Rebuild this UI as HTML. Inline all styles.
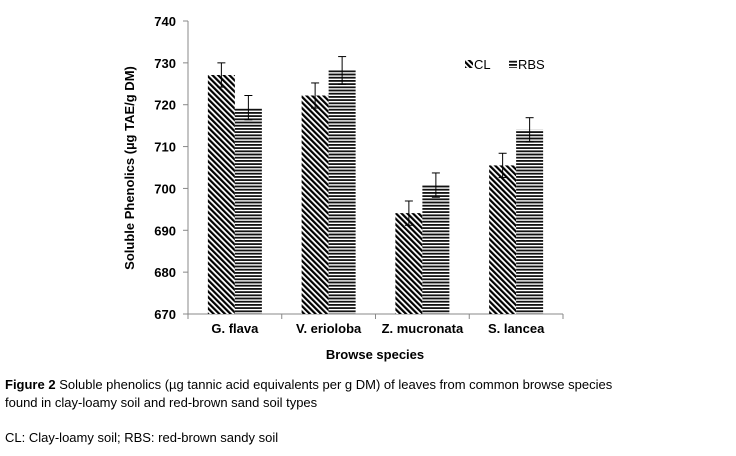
<!DOCTYPE html>
<html><head><meta charset="utf-8"><style>
body{margin:0;background:#fff;width:736px;height:456px;overflow:hidden;font-family:"Liberation Sans",Arial,sans-serif;}
.cap{position:absolute;left:5px;font-size:13px;color:#000;line-height:18px;}
</style></head><body>
<svg id="chart" width="736" height="456" style="position:absolute;left:0;top:0">
<defs>
<pattern id="diag" patternUnits="userSpaceOnUse" width="4" height="4" patternTransform="rotate(-45)">
<rect width="4" height="4" fill="#fff"/><rect width="2.2" height="4" fill="#000"/></pattern>
<pattern id="horiz" patternUnits="userSpaceOnUse" width="4" height="3.2">
<rect width="4" height="3.2" fill="#fff"/><rect width="4" height="1.8" fill="#111"/></pattern>
</defs>
<g id="axes"></g><g id="bars"></g>
</svg>
<div class="cap" style="top:376px;width:625px"><b>Figure 2</b> Soluble phenolics (µg tannic acid equivalents per g DM) of leaves from common browse species found in clay-loamy soil and red-brown sand soil types</div>
<div class="cap" style="top:429px">CL: Clay-loamy soil; RBS: red-brown sandy soil</div>
<script>
const categories=["G. flava","V. erioloba","Z. mucronata","S. lancea"];
const clValues=[727.1,722.2,694.1,705.5];
const rbsValues=[719.3,728.2,700.8,714.0];
const clErr=[2.9,3.0,2.9,2.9];
const rbsErr=[2.9,3.3,2.9,2.9];
const yTicks=[670,680,690,700,710,720,730,740];
const NS="http://www.w3.org/2000/svg";
const x0=188,x1=563,yTop=21,yBot=314,yMin=670,yMax=740;
const y=v=>yBot-(v-yMin)/(yMax-yMin)*(yBot-yTop);
const bw=(x1-x0)/categories.length;
const axes=document.getElementById('axes'),bars=document.getElementById('bars');
function mk(t,a,p){const e=document.createElementNS(NS,t);for(const k in a)e.setAttribute(k,a[k]);p.appendChild(e);return e;}
let l=mk('line',{x1:x0,y1:yTop,x2:x0,y2:yBot,stroke:'#888'},axes);


l=mk('line',{x1:x0,y1:yBot,x2:x1,y2:yBot,stroke:'#888'},axes);


yTicks.forEach(v=>{
 mk('line',{x1:x0-5,y1:y(v),x2:x0,y2:y(v),stroke:'#888'},axes);
 const t=mk('text',{x:x0-12,y:y(v)+5,'text-anchor':'end','font-size':'13','font-weight':'bold'},axes);
 t.textContent=v;
 
 
});
for(let i=0;i<=categories.length;i++)mk('line',{x1:x0+i*bw,y1:yBot,x2:x0+i*bw,y2:yBot+5,stroke:'#888'},axes);
categories.forEach((c,i)=>{
 const cx=x0+bw*(i+0.5);
 const t=mk('text',{x:cx,y:333,'text-anchor':'middle','font-size':'13','font-weight':'bold'},axes);
 t.textContent=c;
 
 
 [[clValues,clErr,'url(#diag)',-27,'bar-cl'],[rbsValues,rbsErr,'url(#horiz)',0,'bar-rbs']].forEach(s=>{
  const v=s[0][i],e=s[1][i],bx=cx+s[3];
  const r=mk('rect',{x:bx,y:y(v),width:27,height:yBot-y(v),fill:s[2]},bars);
  
  
  const ex=bx+13.5;
  mk('line',{x1:ex,y1:y(v+e),x2:ex,y2:y(v-e),stroke:'#000'},bars);
  mk('line',{x1:ex-4,y1:y(v+e),x2:ex+4,y2:y(v+e),stroke:'#000'},bars);
  mk('line',{x1:ex-4,y1:y(v-e),x2:ex+4,y2:y(v-e),stroke:'#000'},bars);
 });
});
let t=mk('text',{x:375,y:359,'text-anchor':'middle','font-size':'13','font-weight':'bold'},axes);
t.textContent='Browse species';


t=mk('text',{x:0,y:0,'text-anchor':'middle','font-size':'13','font-weight':'bold',transform:'translate(134,168) rotate(-90)'},axes);
t.textContent='Soluble Phenolics (µg TAE/g DM)';


let r=mk('rect',{x:465,y:60,width:8,height:8,fill:'url(#diag)'},axes);


t=mk('text',{x:474,y:69,'font-size':'13'},axes);t.textContent='CL';


r=mk('rect',{x:509,y:60,width:8,height:8,fill:'url(#horiz)'},axes);


t=mk('text',{x:518,y:69,'font-size':'13'},axes);t.textContent='RBS';


</script>
</body></html>
